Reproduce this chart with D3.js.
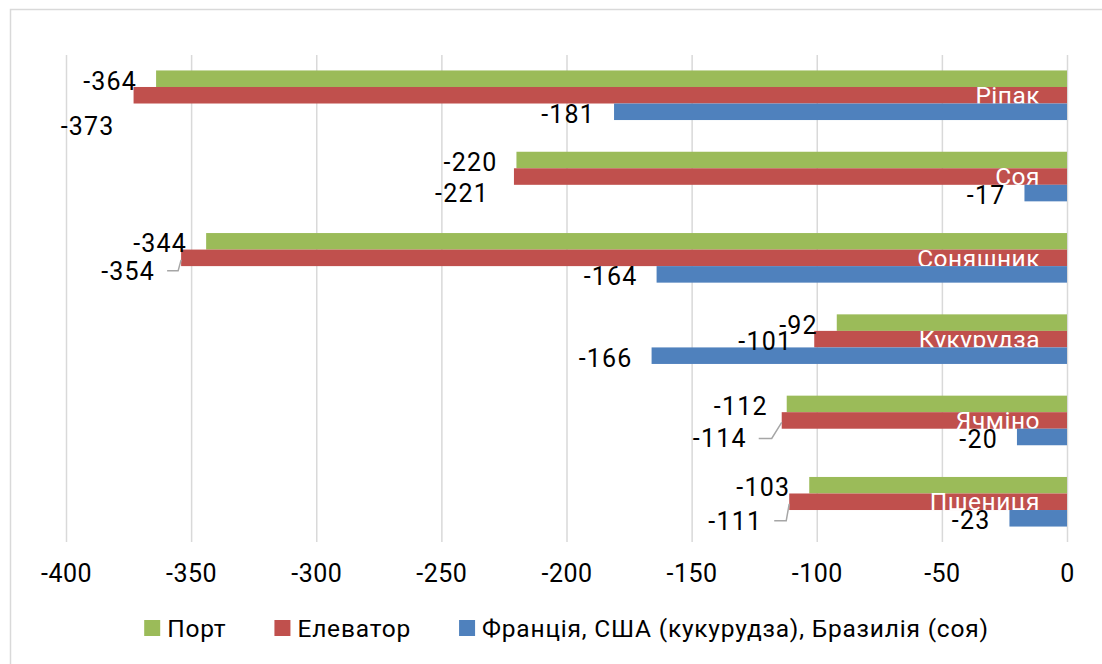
<!DOCTYPE html>
<html>
<head>
<meta charset="utf-8">
<script src="https://cdn.jsdelivr.net/npm/d3@7"></script>
<style>
  body { margin: 0; background: #fff; }
  svg { display: block; }
</style>
</head>
<body>
<div id="chart"></div>
<script>
// категорії та ряди
const categories = ["Ріпак", "Соя", "Соняшник", "Кукурудза", "Ячміно", "Пшениця"];
const seriesNames = ["Порт", "Елеватор", "Франція, США (кукурудза), Бразилія (соя)"];
const portValues = [-364, -220, -344, -92, -112, -103];
const elevatorValues = [-373, -221, -354, -101, -114, -111];
const abroadValues = [-181, -17, -164, -166, -20, -23];
const xTicks = [-400, -350, -300, -250, -200, -150, -100, -50, 0];

drawChart();

function drawChart() {
    const W = 1102, H = 664;
    const left = 66, right = 1067, top = 55, bottom = 542;

    const colors = ["#9BBB59", "#C0504D", "#4F81BD"];
    const seriesValues = [portValues, elevatorValues, abroadValues];

    const rows = [];
    seriesValues.forEach((vals, s) => {
        vals.forEach((v, i) => rows.push({ s: s, cat: categories[i], value: v }));
    });

    // ручне зміщення підписів (як у вихідному файлі Excel)
    const nudge = {
        "1-Ріпак": [0, 29],
        "1-Соя": [-6, 14],
        "1-Соняшник": [-7, 11, true],
        "1-Кукурудза": [-3, 0],
        "1-Ячміно": [-16, 16, true],
        "1-Пшениця": [-8, 17, true]
    };

    const svg = d3.select("#chart").append("svg")
        .attr("width", W)
        .attr("height", H);

    // рамка області діаграми
    svg.append("rect")
        .attr("x", 10.5).attr("y", 9.5)
        .attr("width", W + 20).attr("height", H + 20)
        .attr("fill", "#fff")
        .attr("stroke", "#d9d9d9")
        .attr("stroke-width", 1.5);

    const x = d3.scaleLinear().domain([-400, 0]).range([left, right]);

    const y = d3.scaleBand()
        .domain(categories)
        .range([top, bottom])
        .paddingInner(0.39)
        .paddingOuter(0.19);

    const ys = d3.scaleBand()
        .domain([0, 1, 2])
        .range([0, y.bandwidth()]);

    // сітка + підписи осі X
    const axis = svg.append("g")
        .attr("transform", `translate(0,${bottom})`)
        .call(d3.axisBottom(x)
            .tickValues(xTicks)
            .tickSize(-(bottom - top))
            .tickPadding(22)
            .tickFormat(d => String(d)));
    axis.select(".domain").remove();
    axis.selectAll("line")
        .attr("stroke", "#d9d9d9")
        .attr("stroke-width", 1.5);
    axis.selectAll("text")
        .attr("fill", "#000")
        .attr("font-family", "Roboto, 'DejaVu Sans', sans-serif")
        .attr("font-size", 25)
        .attr("letter-spacing", 0.5)
        .attr("dy", "0.71em");

    const bars = svg.append("g");
    function drawSeries(s) {
        bars.selectAll(".bar-" + s)
            .data(rows.filter(d => d.s === s))
            .enter().append("rect")
            .attr("class", "bar-" + s)
            .attr("x", d => x(d.value))
            .attr("y", d => y(d.cat) + ys(s))
            .attr("width", d => x(0) - x(d.value))
            .attr("height", ys.bandwidth())
            .attr("fill", colors[s]);
    }
    drawSeries(0);
    drawSeries(1);

    // назви категорій (білі, під синім рядом)
    bars.selectAll(".cat-label")
        .data(categories)
        .enter().append("text")
        .attr("class", "cat-label")
        .attr("x", x(0) - 27)
        .attr("y", d => y(d) + y.bandwidth() / 2 + 8.7)
        .attr("text-anchor", "end")
        .attr("fill", "#fff")
        .attr("font-family", "Roboto, 'DejaVu Sans', sans-serif")
        .attr("font-size", 24.5)
        .attr("letter-spacing", 0.5)
        .text(d => d);

    drawSeries(2);

    // підписи значень
    const labels = svg.append("g");
    rows.forEach(d => {
        const n = nudge[d.s + "-" + d.cat] || [0, 0];
        const barEnd = x(d.value);
        const barMid = y(d.cat) + ys(d.s) + ys.bandwidth() / 2;
        const lx = barEnd - 19 + n[0];
        const ly = barMid + 2 + n[1];
        labels.append("text")
            .attr("x", lx)
            .attr("y", ly)
            .attr("dy", "0.36em")
            .attr("text-anchor", "end")
            .attr("fill", "#000")
            .attr("font-family", "Roboto, 'DejaVu Sans', sans-serif")
            .attr("font-size", 25)
            .attr("letter-spacing", 1.2)
            .text(String(d.value));
        if (n[2]) {
            const elbow = Math.min(lx + 25, barEnd - 3);
            labels.append("path")
                .attr("d", `M${lx + 12},${ly} L${elbow},${ly} L${barEnd},${barMid + 2}`)
                .attr("fill", "none")
                .attr("stroke", "#a6a6a6")
                .attr("stroke-width", 1.5);
        }
    });

    // легенда
    const legend = svg.append("g");
    let cx = 0;
    seriesNames.forEach((name, i) => {
        const g = legend.append("g");
        g.append("rect")
            .attr("x", 0).attr("y", -8)
            .attr("width", 16).attr("height", 16)
            .attr("fill", colors[i]);
        const t = g.append("text")
            .attr("x", 23).attr("y", 0)
            .attr("dy", "0.36em")
            .attr("fill", "#000")
            .attr("font-family", "Roboto, 'DejaVu Sans', sans-serif")
            .attr("font-size", 24.5)
            .attr("letter-spacing", 0.8)
            .text(name);
        const w = 23 + t.node().getComputedTextLength();
        g.attr("transform", `translate(${cx},0)`);
        cx += w + 48;
    });
    const total = cx - 48;
    legend.attr("transform", `translate(${(left + right) / 2 - total / 2},628)`);
}
</script>
</body>
</html>
